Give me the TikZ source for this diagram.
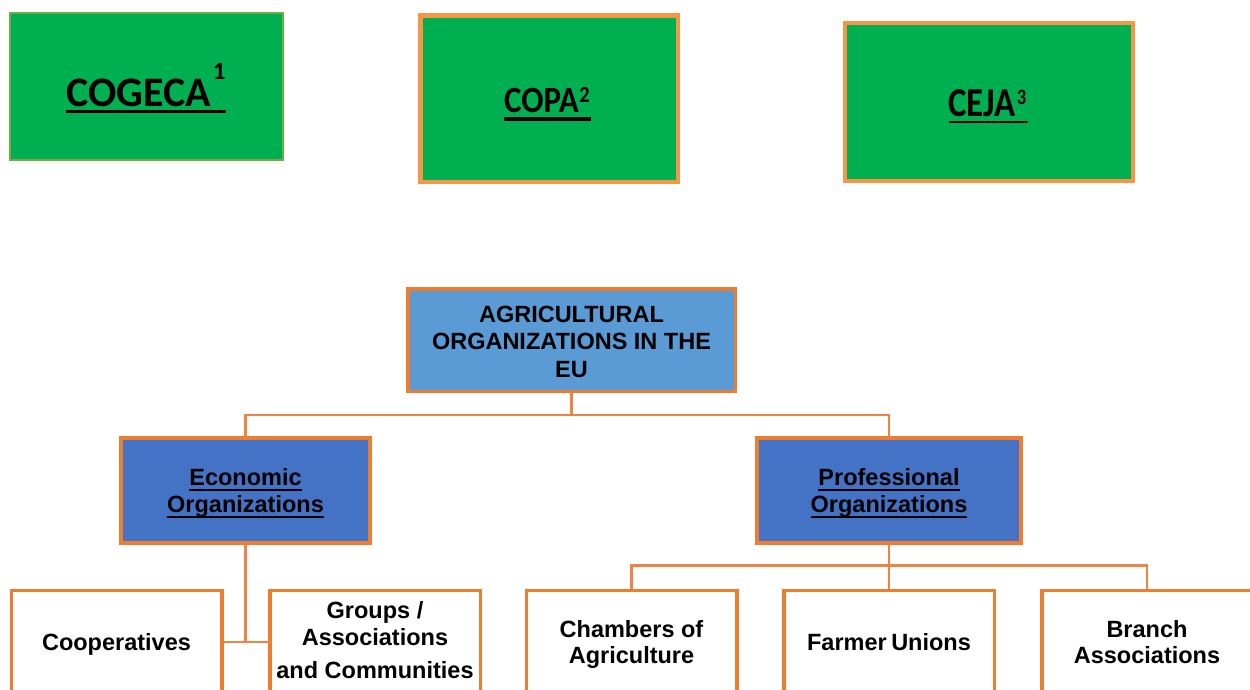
\documentclass[tikz,border=0pt]{standalone}
\usepackage{fontspec}
\newfontfamily\arialfont{Liberation Sans}
\newfontfamily\calfont{Carlito}
\newfontfamily\calcopa{Carlito}[FakeStretch=0.89]
\newfontfamily\calceja{Carlito}[FakeStretch=0.85]

\definecolor{leafgreen}{HTML}{00B050}
\definecolor{greenedge}{HTML}{70AD47}
\definecolor{lightorange}{HTML}{F79646}
\definecolor{darkorange}{HTML}{ED7D31}
\definecolor{skyblue}{HTML}{5B9BD5}
\definecolor{royalblue}{HTML}{4472C4}
\definecolor{linkorange}{HTML}{EE8444}

% text with a rule drawn under it: #1 = depth of the rule's lower edge, #2 = thickness
\newcommand{\ulbox}[3]{\leavevmode\setbox0=\hbox{#3}\rlap{\raisebox{-#1}{\rule{\wd0}{#2}}}\box0}

\tikzset{
  greenbox/.style={rectangle, fill=leafgreen, draw=lightorange, line width=4pt, inner sep=0pt},
  toplevel/.style={rectangle, fill=skyblue, draw=darkorange, line width=3.5pt, inner sep=0pt},
  midlevel/.style={rectangle, fill=royalblue, draw=darkorange, line width=4pt, inner sep=0pt,
                   minimum height=105pt},
  leafbox/.style={rectangle, fill=white, draw=darkorange, line width=3.5pt, inner sep=0pt,
                  minimum width=210.5pt, minimum height=103pt},
  lbl/.style={inner sep=0pt, anchor=base, text=black},
  boldtext/.style={lbl, font=\arialfont\bfseries\fontsize{23.5}{27}\selectfont},
  link/.style={draw=linkorange, line width=2.5pt}
}

\begin{document}
\begin{tikzpicture}[x=1pt, y=-1pt]
  \useasboundingbox (0,0) rectangle (1250,689);
  \clip (0,0) rectangle (1250,689);
  \fill[white] (0,0) rectangle (1250,689);

  % European umbrella organisations
  \node[greenbox, draw=greenedge, line width=2pt, minimum width=273pt, minimum height=147pt]
    (cogeca) at (146.5,86.5) {};
  \node[greenbox, line width=4.5pt, minimum width=257.5pt, minimum height=166.5pt]
    (copa) at (549,98.5) {};
  \node[greenbox, minimum width=288pt, minimum height=158pt]
    (ceja) at (989,102) {};

  \node[lbl, anchor=base west, font=\calfont\bfseries\fontsize{42}{42}\selectfont]
    (cogecatxt) at (66,106.7)
    {\ulbox{6.7pt}{3.4pt}{COGECA\hspace{2pt}\raisebox{27.4pt}{\fontsize{25}{25}\selectfont 1}}};
  \node[lbl, anchor=base west, font=\calcopa\bfseries\fontsize{37}{37}\selectfont]
    (copatxt) at (504,112)
    {\ulbox{8.7pt}{3.4pt}{COPA\hspace{0.5pt}\raisebox{10pt}{\fontsize{23}{23}\selectfont 2}\hspace{1pt}}};
  \node[lbl, anchor=base west, font=\calceja\bfseries\fontsize{41}{41}\selectfont]
    (cejatxt) at (948.3,116)
    {\ulbox{7.3pt}{2.8pt}{CEJA\hspace{1pt}\raisebox{12pt}{\fontsize{22}{22}\selectfont 3}\hspace{2pt}}};

  % hierarchy boxes
  \node[toplevel, minimum width=327.5pt, minimum height=102.5pt] (agri) at (571.5,340) {};
  \node[midlevel, minimum width=249pt] (econ) at (245.5,490.5) {};
  \node[midlevel, minimum width=264pt] (prof) at (889,490.5) {};

  \node[leafbox] (coop)    at (116.5,642) {};
  \node[leafbox] (groups)  at (375,642)   {};
  \node[leafbox] (chamb)   at (631.5,642) {};
  \node[leafbox] (farmer)  at (889,642)   {};
  \node[leafbox] (branch)  at (1147,642)  {};

  % connectors
  \coordinate (busA) at (571.5,415);
  \coordinate (busB) at (889,565.5);
  \draw[link] (agri.south) -- (busA);
  \draw[link] (econ.north) |- (busA) -| (prof.north);
  \draw[link] (econ.south) -- (econ.south |- coop.east);
  \draw[link] (coop.east) -- (groups.west);
  \draw[link] (prof.south) -- (busB);
  \draw[link] (chamb.north) |- (busB) -| (branch.north);
  \draw[link] (busB) -- (farmer.north);

  % labels
  \node[boldtext] (agri1) at (571.5,322)   {AGRICULTURAL};
  \node[boldtext] (agri2) at (571.5,349.5) {ORGANIZATIONS IN THE};
  \node[boldtext] (agri3) at (571.5,377)   {EU};

  \node[boldtext] (econ1) at (245.5,485) {\ulbox{6pt}{2pt}{Economic}};
  \node[boldtext] (econ2) at (245.5,512) {\ulbox{6pt}{2pt}{Organizations}};
  \node[boldtext] (prof1) at (889,485)   {\ulbox{6pt}{2pt}{Professional}};
  \node[boldtext] (prof2) at (889,512)   {\ulbox{6pt}{2pt}{Organizations}};

  \node[boldtext] (coop1)   at (116.5,650) {Cooperatives};
  \node[boldtext] (groups1) at (375,618)   {Groups /};
  \node[boldtext] (groups2) at (375,645)   {Associations};
  \node[boldtext] (groups3) at (375,678)   {and Communities};
  \node[boldtext] (chamb1)  at (631.5,637) {Chambers of};
  \node[boldtext] (chamb2)  at (631.5,663) {Agriculture};
  \node[boldtext] (farmer1) at (889,650)   {Farmer\hspace{-2pt} Unions};
  \node[boldtext] (branch1) at (1147,637)  {Branch};
  \node[boldtext] (branch2) at (1147,663)  {Associations};
\end{tikzpicture}
\end{document}
